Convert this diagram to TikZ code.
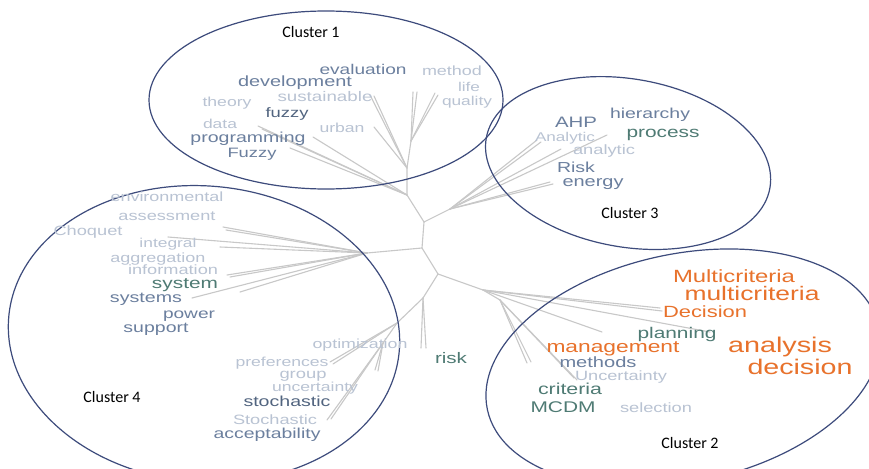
\documentclass[tikz,border=0pt]{standalone}
\usepackage{fontspec}
\usepackage{graphicx}
\newfontfamily\wcfont[FakeStretch=1.35]{Liberation Sans}
\newfontfamily\clfont{Carlito}
\definecolor{faint}{HTML}{B9C3D3}
\definecolor{slate}{HTML}{6B7F9E}
\definecolor{dslate}{HTML}{51647F}
\definecolor{teal}{HTML}{4F7B74}
\definecolor{orng}{HTML}{E8722C}
\definecolor{navy}{HTML}{3D4B7C}
\definecolor{branch}{HTML}{C8C8C8}
% word of the cloud, scaled to a given width
\newcommand\wc[2]{\resizebox{#1pt}{!}{\wcfont #2}}
\tikzset{
  word/.style={inner sep=0pt, outer sep=0pt},
  cluster/.style={draw=navy, line width=1.2pt},
  clabel/.style={inner sep=0pt, font=\clfont\fontsize{16}{18}\selectfont, text=black},
  br/.style={draw=branch, line width=1.1pt, line cap=round},
}
\begin{document}
\begin{tikzpicture}[x=1pt, y=-1pt]
\useasboundingbox (0,0) rectangle (869,468);
\fill[white] (0,0) rectangle (869,468);
\begin{scope}
\clip (0,0) rectangle (869,468);

% ---------- tree ----------
\coordinate (A) at (424,222);
\coordinate (B) at (422,248);
\coordinate (C) at (438,274);
% cluster 1 branch
\coordinate (P1) at (407,195);
\coordinate (P2) at (407,168);
\coordinate (P3) at (411,141);
\coordinate (e1) at (258,126);
\coordinate (e2) at (262,129);
\coordinate (e3) at (290,148);
\coordinate (e4) at (313,137);
\coordinate (e5) at (374,127);
\coordinate (e6) at (370,95);
\coordinate (e7) at (374,96);
\coordinate (e8) at (413,92);
\coordinate (e9) at (417,92);
\coordinate (e10) at (435,93);
\coordinate (e11) at (438,95);
% cluster 3 branch
\coordinate (Q) at (450,209);
\coordinate (g1) at (537,140);
\coordinate (g2) at (541,142);
\coordinate (g3) at (607,135);
\coordinate (g4) at (561,149);
\coordinate (g5) at (550,182);
\coordinate (g6) at (553,184);
% cluster 4 branch
\coordinate (R) at (367,253);
\coordinate (h1) at (223,227);
\coordinate (h2) at (226,230);
\coordinate (h3) at (168,237);
\coordinate (h4) at (220,247);
\coordinate (h5) at (227,275);
\coordinate (h6) at (230,277);
\coordinate (h7) at (192,298);
\coordinate (h8) at (240,292);
\coordinate (D) at (423,298);
\coordinate (E) at (397,323);
\coordinate (F) at (383,343);
\coordinate (k1) at (421,348);
\coordinate (k2) at (426,348);
\coordinate (k3) at (330,362);
\coordinate (k4) at (333,364);
\coordinate (k5) at (375,370);
\coordinate (k6) at (378,371);
\coordinate (k7) at (327,420);
\coordinate (k8) at (331,419);
% cluster 2 branch
\coordinate (H) at (483,290);
\coordinate (H2) at (500,300);
\coordinate (m1) at (660,308);
\coordinate (m2) at (662,311);
\coordinate (m3) at (710,332);
\coordinate (m4) at (602,332);
\coordinate (m5) at (527,363);
\coordinate (m6) at (531,362);
\coordinate (m7) at (577,380);
\coordinate (m8) at (574,378);

\path[br] (A) -- (B) -- (C);
\path[br] (A) -- (P1) -- (P2) -- (P3);
\foreach \t in {e1,e2,e3,e4} \path[br] (P1) -- (\t);
\foreach \t in {e5,e6,e7} \path[br] (P2) -- (\t);
\foreach \t in {e8,e9,e10,e11} \path[br] (P3) -- (\t);
\path[br] (A) -- (Q);
\foreach \t in {g1,g2,g3,g4,g5,g6} \path[br] (Q) -- (\t);
\path[br] (B) -- (R);
\foreach \t in {h1,h2,h3,h4,h5,h6,h7,h8} \path[br] (R) -- (\t);
\path[br] (C) -- (D) -- (E) -- (F);
\foreach \t in {k1,k2} \path[br] (D) -- (\t);
\foreach \t in {k3,k4} \path[br] (E) -- (\t);
\foreach \t in {k5,k6,k7,k8} \path[br] (F) -- (\t);
\path[br] (C) -- (H) -- (H2);
\foreach \t in {m1,m2,m3,m4} \path[br] (H) -- (\t);
\foreach \t in {m5,m6,m7,m8} \path[br] (H2) -- (\t);

% ---------- cluster outlines ----------
\coordinate (c1) at (326,100);
\coordinate (c2) at (683,368);
\coordinate (c3) at (628,163);
\coordinate (c4) at (204,334);
\draw[cluster] (c1) ellipse [x radius=177, y radius=89];
\draw[cluster, rotate around={-10:(c3)}] (c3) ellipse [x radius=144, y radius=84];
\draw[cluster, rotate around={-5:(c4)}] (c4) ellipse [x radius=196, y radius=148];
\draw[cluster, rotate around={12:(c2)}] (c2) ellipse [x radius=200, y radius=114];
\end{scope}

% ---------- cluster labels ----------
\node[clabel] (l1) at (311,32) {Cluster 1};
\node[clabel] (l3) at (630,213) {Cluster 3};
\node[clabel] (l4) at (112,397) {Cluster 4};
\node[clabel] (l2) at (690,443) {Cluster 2};

% ---------- words: cluster 1 ----------
\node[word, text=slate]  (w1)  at (363,69)  {\wc{87}{evaluation}};
\node[word, text=faint]  (w2)  at (452,71)  {\wc{60}{method}};
\node[word, text=slate]  (w3)  at (295,83)  {\wc{114}{development}};
\node[word, text=faint]  (w4)  at (469,87)  {\wc{22}{life}};
\node[word, text=faint]  (w5)  at (227,103) {\wc{49}{theory}};
\node[word, text=faint]  (w6)  at (325,97)  {\wc{95}{sustainable}};
\node[word, text=faint]  (w7)  at (467,102) {\wc{50}{quality}};
\node[word, text=dslate] (w8)  at (287,114) {\wc{43}{fuzzy}};
\node[word, text=faint]  (w9)  at (220,124) {\wc{34}{data}};
\node[word, text=faint]  (w10) at (342,128) {\wc{45}{urban}};
\node[word, text=slate]  (w11) at (248,139) {\wc{115}{programming}};
\node[word, text=slate]  (w12) at (252,154) {\wc{49}{Fuzzy}};

% ---------- words: cluster 3 ----------
\node[word, text=slate]  (w13) at (576,122) {\wc{42}{AHP}};
\node[word, text=slate]  (w14) at (650,115) {\wc{80}{hierarchy}};
\node[word, text=faint]  (w15) at (565,138) {\wc{60}{Analytic}};
\node[word, text=teal]   (w16) at (663,135) {\wc{73}{process}};
\node[word, text=faint]  (w17) at (604,151) {\wc{62}{analytic}};
\node[word, text=slate]  (w18) at (576,167) {\wc{38}{Risk}};
\node[word, text=slate]  (w19) at (593,184) {\wc{61}{energy}};

% ---------- words: cluster 4 ----------
\node[word, text=faint]  (w20) at (167,197) {\wc{113}{environmental}};
\node[word, text=faint]  (w21) at (167,216) {\wc{97}{assessment}};
\node[word, text=faint]  (w22) at (88,232)  {\wc{69}{Choquet}};
\node[word, text=faint]  (w23) at (168,244) {\wc{57}{integral}};
\node[word, text=faint]  (w24) at (158,259) {\wc{95}{aggregation}};
\node[word, text=faint]  (w25) at (173,270) {\wc{90}{information}};
\node[word, text=teal]   (w26) at (185,285) {\wc{66}{system}};
\node[word, text=slate]  (w27) at (146,299) {\wc{72}{systems}};
\node[word, text=slate]  (w28) at (189,316) {\wc{52}{power}};
\node[word, text=slate]  (w29) at (156,329) {\wc{65}{support}};
\node[word, text=faint]  (w30) at (360,345) {\wc{95}{optimization}};
\node[word, text=faint]  (w31) at (282,363) {\wc{93}{preferences}};
\node[word, text=teal]   (w32) at (451,358) {\wc{32}{risk}};
\node[word, text=faint]  (w33) at (303,376) {\wc{47}{group}};
\node[word, text=faint]  (w34) at (315,388) {\wc{86}{uncertainty}};
\node[word, text=dslate] (w35) at (287,401) {\wc{87}{stochastic}};
\node[word, text=faint]  (w36) at (275,420) {\wc{84}{Stochastic}};
\node[word, text=slate]  (w37) at (267,435) {\wc{107}{acceptability}};

% ---------- words: cluster 2 ----------
\node[word, text=orng]   (w38) at (734,276) {\wc{122}{Multicriteria}};
\node[word, text=orng]   (w39) at (752,294) {\wc{135}{multicriteria}};
\node[word, text=orng]   (w40) at (705,312) {\wc{84}{Decision}};
\node[word, text=teal]   (w41) at (677,334) {\wc{79}{planning}};
\node[word, text=orng]   (w42) at (613,349) {\wc{133}{management}};
\node[word, text=orng]   (w43) at (780,347) {\wc{104}{analysis}};
\node[word, text=slate]  (w44) at (598,362) {\wc{77}{methods}};
\node[word, text=orng]   (w45) at (800,367) {\wc{105}{decision}};
\node[word, text=faint]  (w46) at (621,377) {\wc{92}{Uncertainty}};
\node[word, text=teal]   (w47) at (570,389) {\wc{64}{criteria}};
\node[word, text=teal]   (w48) at (563,407) {\wc{65}{MCDM}};
\node[word, text=faint]  (w49) at (656,408) {\wc{72}{selection}};
\end{tikzpicture}
\end{document}
